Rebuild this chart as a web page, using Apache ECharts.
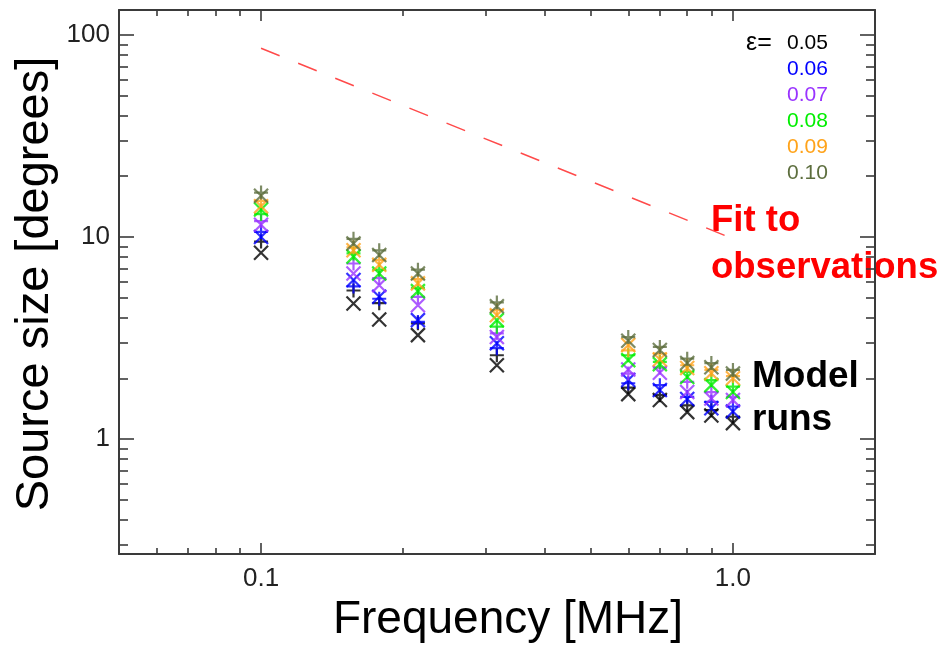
<!DOCTYPE html>
<html><head><meta charset="utf-8">
<script src="https://cdn.jsdelivr.net/npm/echarts@6/dist/echarts.min.js"></script>
<style>html,body{margin:0;padding:0;background:#fff}#c{width:943px;height:651px}</style>
</head><body><div id="c"></div>
<script>
// ---------- data ----------
const freqs = [0.1, 0.157, 0.178, 0.215, 0.316, 0.6, 0.7, 0.8, 0.9, 1.0];

const epsLabels = ['0.05', '0.06', '0.07', '0.08', '0.09', '0.10'];
const epsColors = ['#000000', '#0000ff', '#9933ff', '#00ee00', '#ffa31a', '#5d6e3e'];

// "+" markers per epsilon
const plus05 = [9.5, 5.44, 4.71, 3.74, 2.6, 1.8, 1.65, 1.47, 1.39, 1.29];
const plus06 = [10.6, 5.7, 4.95, 3.8, 2.82, 1.89, 1.85, 1.62, 1.53, 1.45];
const plus07 = [12.0, 7.4, 6.27, 5.06, 3.34, 2.11, 2.26, 1.92, 1.71, 1.62];
const plus08 = [13.0, 8.3, 6.9, 5.6, 3.6, 2.6, 2.41, 2.15, 1.96, 1.82];
const plus09 = [15.1, 8.9, 7.7, 6.2, 4.35, 2.75, 2.65, 2.32, 2.2, 2.05];
const plus10 = [16.6, 9.8, 8.6, 6.9, 4.75, 3.2, 2.86, 2.5, 2.38, 2.2];

// "x" markers per epsilon
const cross05 = [8.36, 4.69, 3.91, 3.27, 2.32, 1.67, 1.56, 1.36, 1.31, 1.2];
const cross06 = [10.0, 6.13, 5.06, 3.88, 2.98, 1.96, 1.75, 1.58, 1.42, 1.37];
const cross07 = [11.5, 6.6, 5.78, 4.6, 3.2, 2.21, 2.13, 1.71, 1.59, 1.56];
const cross08 = [13.7, 8.0, 6.6, 5.4, 3.88, 2.46, 2.35, 2.03, 1.85, 1.71];
const cross09 = [14.2, 8.6, 7.3, 5.9, 4.1, 2.92, 2.48, 2.25, 2.12, 2.0];
const cross10 = [16.0, 9.3, 8.15, 6.6, 4.55, 3.07, 2.76, 2.38, 2.27, 2.11];

// fit to observations (dashed red line)
const fitFreqs = [0.1, 0.96];
const fitVals = [86, 10.2];

// axis ticks
const xRange = [0.05, 2.0];
const yRange = [0.27, 133];
const xMajorTicks = [0.1, 1];
const xTickLabels = ['0.1', '1.0'];
const xMinorTicks = [0.06, 0.07, 0.08, 0.09, 0.2, 0.3, 0.4, 0.5, 0.6, 0.7, 0.8, 0.9];
const yMajorTicks = [1, 10, 100];
const yTickLabels = ['1', '10', '100'];
const yMinorTicks = [0.3, 0.4, 0.5, 0.6, 0.7, 0.8, 0.9, 2, 3, 4, 5, 6, 7, 8, 9, 20, 30, 40, 50, 60, 70, 80, 90];

// ---------- chart ----------
const FONT = '"Liberation Sans", Arial, Helvetica, sans-serif';
const AX = '#3a3a3a';
const plusSets = [plus05, plus06, plus07, plus08, plus09, plus10];
const crossSets = [cross05, cross06, cross07, cross08, cross09, cross10];

function mkAxis(kind, position, ticks, len, showLine, labels, labelVals, fontSize) {
  const range = kind === 'x' ? xRange : yRange;
  const ax = {
    type: 'log', logBase: 10, min: range[0], max: range[1], position: position, gridIndex: 0,
    axisLine: { show: showLine, onZero: false, lineStyle: { color: AX, width: 2 } },
    axisTick: { show: true, inside: true, length: len, customValues: ticks, lineStyle: { color: AX, width: 1.6 } },
    axisLabel: { show: false },
    splitLine: { show: false }, minorTick: { show: false }, minorSplitLine: { show: false }
  };
  if (labels) {
    ax.axisLabel = {
      show: true, customValues: labelVals, margin: kind === 'x' ? 12 : 9,
      fontFamily: FONT, fontSize: fontSize, color: '#222',
      formatter: function (v) {
        for (let i = 0; i < labelVals.length; i++) {
          if (Math.abs(v - labelVals[i]) / labelVals[i] < 1e-6) return labels[i];
        }
        return '';
      }
    };
  }
  return ax;
}

const series = [];
const plusSym = 'path://M5,0L5,10M0,5L10,5';
const crossSym = 'path://M0,0L10,10M10,0L0,10';
for (let k = 0; k < epsLabels.length; k++) {
  series.push({
    type: 'scatter', name: 'plus ' + epsLabels[k], xAxisIndex: 0, yAxisIndex: 0,
    symbol: plusSym, symbolSize: 14,
    itemStyle: { color: 'rgba(0,0,0,0)', borderColor: epsColors[k], borderWidth: 2.2 },
    data: freqs.map((f, i) => [f, plusSets[k][i]]), z: 3 + k
  });
  series.push({
    type: 'scatter', name: 'cross ' + epsLabels[k], xAxisIndex: 0, yAxisIndex: 0,
    symbol: crossSym, symbolSize: 14,
    itemStyle: { color: 'rgba(0,0,0,0)', borderColor: epsColors[k], borderWidth: 2.2 },
    data: freqs.map((f, i) => [f, crossSets[k][i]]), z: 3 + k
  });
}
series.push({
  type: 'line', name: 'fit', xAxisIndex: 0, yAxisIndex: 0, symbol: 'none',
  lineStyle: { color: '#ff4a4a', width: 1.5, type: [20, 20] },
  data: fitFreqs.map((f, i) => [f, fitVals[i]]), z: 2
});

const graphics = [
  { type: 'text', x: 508, y: 620, style: { text: 'Frequency [MHz]', font: '46px ' + FONT, fill: '#000', textAlign: 'center', textVerticalAlign: 'middle' } },
  { type: 'text', x: 35, y: 284, rotation: Math.PI / 2, style: { text: 'Source size [degrees]', font: '47px ' + FONT, fill: '#000', textAlign: 'center', textVerticalAlign: 'middle' } },
  { type: 'text', x: 746, y: 43, style: { text: 'ε=', font: '25px ' + FONT, fill: '#000', textAlign: 'left', textVerticalAlign: 'middle' } },
  { type: 'text', x: 711, y: 221, style: { text: 'Fit to', font: 'bold 36.5px ' + FONT, fill: '#ff0000', textAlign: 'left', textVerticalAlign: 'middle' } },
  { type: 'text', x: 711, y: 268, style: { text: 'observations', font: 'bold 36.5px ' + FONT, fill: '#ff0000', textAlign: 'left', textVerticalAlign: 'middle' } },
  { type: 'text', x: 752, y: 377, style: { text: 'Model', font: 'bold 37px ' + FONT, fill: '#000', textAlign: 'left', textVerticalAlign: 'middle' } },
  { type: 'text', x: 752, y: 420, style: { text: 'runs', font: 'bold 37px ' + FONT, fill: '#000', textAlign: 'left', textVerticalAlign: 'middle' } }
];
for (let k = 0; k < epsLabels.length; k++) {
  graphics.push({ type: 'text', x: 787, y: 43 + k * 26, style: { text: epsLabels[k], font: '21px ' + FONT, fill: epsColors[k], textAlign: 'left', textVerticalAlign: 'middle' } });
}

const option = {
  backgroundColor: '#ffffff',
  animation: false,
  grid: { left: 119, top: 10, right: 68, bottom: 97, containLabel: false },
  xAxis: [
    mkAxis('x', 'bottom', xMajorTicks, 11, true, xTickLabels, xMajorTicks, 26),
    mkAxis('x', 'bottom', xMinorTicks, 6, false),
    mkAxis('x', 'top', xMajorTicks, 11, true),
    mkAxis('x', 'top', xMinorTicks, 6, false)
  ],
  yAxis: [
    mkAxis('y', 'left', yMajorTicks, 15, true, yTickLabels, yMajorTicks, 26),
    mkAxis('y', 'left', yMinorTicks, 9, false),
    mkAxis('y', 'right', yMajorTicks, 15, true),
    mkAxis('y', 'right', yMinorTicks, 9, false)
  ],
  series: series,
  graphic: graphics
};

const chart = echarts.init(document.getElementById('c'), null, { renderer: 'canvas' });
chart.setOption(option);
</script>
</body></html>
